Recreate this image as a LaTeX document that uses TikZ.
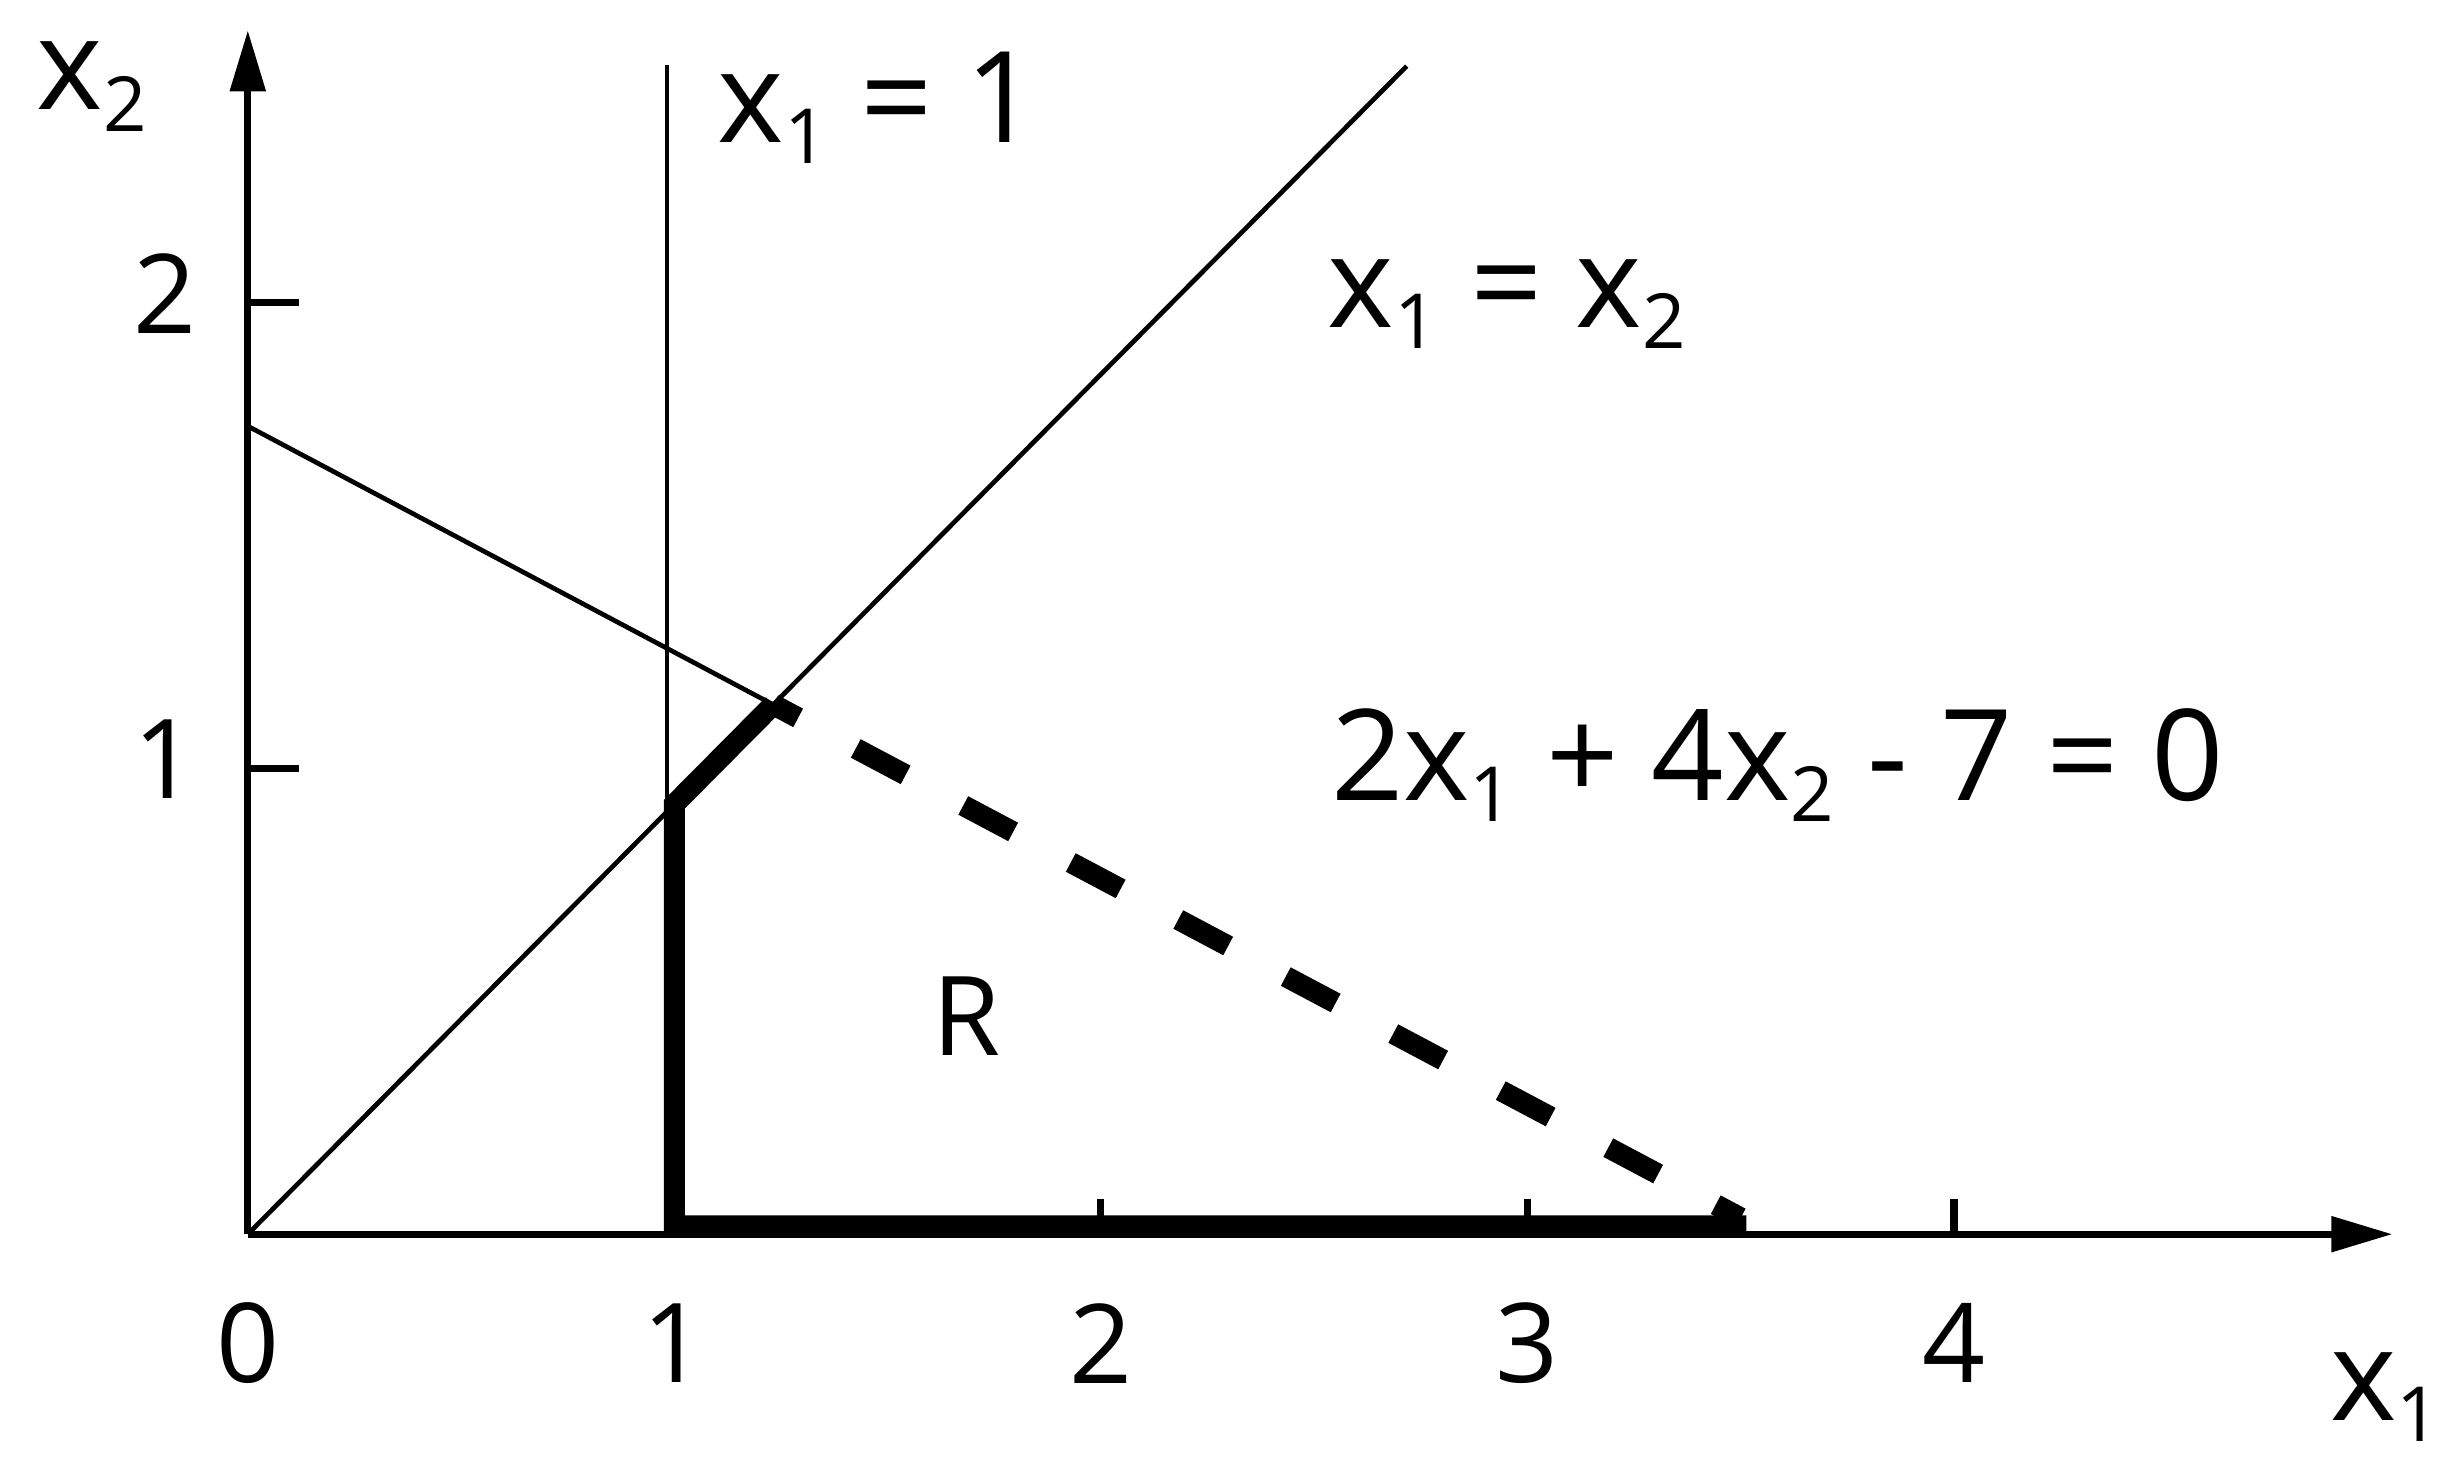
\documentclass[tikz,border=0pt]{standalone}
\usepackage{fontspec}
\setmainfont{Open Sans}
\usetikzlibrary{arrows.meta}

\newcommand{\lowidx}[1]{\raisebox{-0.17em}{\scalebox{0.6}{#1}}}

\tikzset{
	axis/.style={line width=1.3pt},
	guide/.style={line width=0.85pt},
	bound/.style={line width=3.8pt, line join=miter},
	bounddash/.style={bound, dash pattern=on 0.36cm off 0.416cm, dash phase=0.18cm},
	lab/.style={font=\fontsize{23}{27}\selectfont, anchor=base west, inner sep=0pt},
	ticklab/.style={font=\fontsize{20}{24}\selectfont, inner sep=0pt},
}

\begin{document}
\begin{tikzpicture}[x=2.72cm, y=2.97cm]
		\useasboundingbox (-0.581,-0.5185) rectangle (5.184,2.650);
		% axes
		\coordinate (O) at (0,0);
		\coordinate (xend) at (5.028,0);
		\coordinate (yend) at (0,2.585);
		\draw[axis,-{Triangle[length=0.39cm,width=0.22cm]}] (O) -- (xend);
		\draw[axis,-{Triangle[length=0.39cm,width=0.22cm]}] (O) -- (yend);
		\foreach \i in {1,...,4}
			\draw[axis] (\i,0) -- (\i,0.076);
		\foreach \j in {1,2}
			\draw[axis] (0,\j) -- (0.12,\j);
		\foreach \i in {0,...,4}
			\node[ticklab] (tx\i) at (\i,-0.234) {\i};
		\foreach \j in {1,2}
			\node[ticklab] (ty\j) at (-0.193,\j+0.02) {\j};
		\node[lab] (xlab) at (4.88,-0.399) {x\lowidx{1}};
		\node[lab] (ylab) at (-0.497,2.414) {x\lowidx{2}};

		% constraint lines
		\coordinate (Vtop) at (0.983,2.51);
		\coordinate (Vbot) at (0.983,0);
		\coordinate (D) at (2.717,2.508);
		\coordinate (A) at (0,1.735);
		\coordinate (B) at (3.5,0.035);
		\coordinate (Q) at (intersection of O--D and A--B);
		\coordinate (P) at (intersection of O--D and 1,0--1,1);
		\coordinate (C) at (1,0.018);
		\coordinate (E) at (3.513,0.018);
		\draw[guide] (Vtop) -- (Vbot);
		\draw[guide] (O) -- (D);
		\draw[guide] (A) -- (Q);

		% region R
		\draw[bound] (Q) -- (P) -- (C) -- (E);
		\draw[bounddash] (Q) -- (B);

		\node[lab] (v1) at (1.099,2.345) {x\lowidx{1} = 1};
		\node[lab] (diag) at (2.529,1.947) {x\lowidx{1} = x\lowidx{2}};
		\node[lab] (cons) at (2.537,0.932) {2x\lowidx{1} + 4x\lowidx{2} - 7 = 0};
		\node[ticklab] (R) at (1.684,0.468) {R};
	\end{tikzpicture}
\end{document}
